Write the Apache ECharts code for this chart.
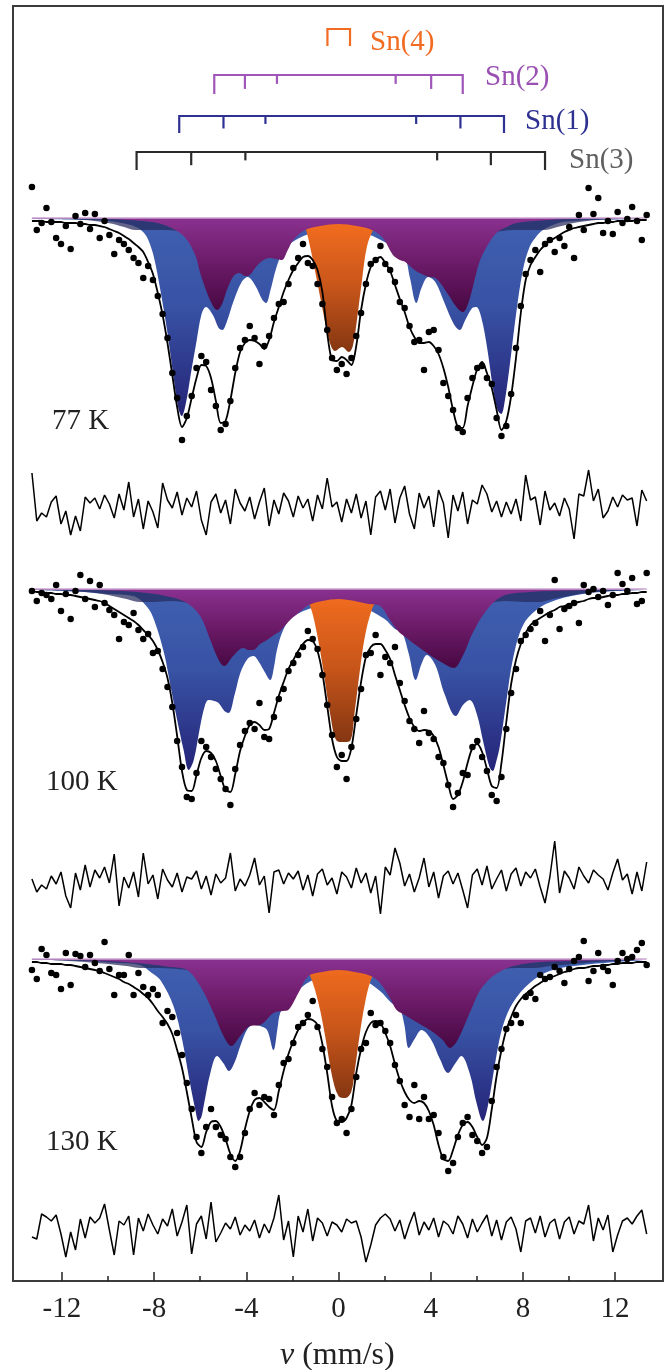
<!DOCTYPE html>
<html><head><meta charset="utf-8">
<script src="https://cdn.jsdelivr.net/npm/echarts@6/dist/echarts.min.js"></script>
<style>html,body{margin:0;padding:0;background:#fff}#c{width:671px;height:1370px}</style>
</head><body><div id="c"></div>
<script>
// Channel velocities (mm/s)
const vChan = [-13.30,-13.09,-12.88,-12.67,-12.46,-12.25,-12.04,-11.83,-11.62,-11.41,
-11.20,-10.99,-10.78,-10.57,-10.36,-10.15,-9.94,-9.73,-9.52,-9.31,
-9.10,-8.89,-8.68,-8.47,-8.26,-8.05,-7.84,-7.63,-7.42,-7.21,
-7.00,-6.79,-6.58,-6.37,-6.16,-5.95,-5.74,-5.53,-5.32,-5.11,
-4.90,-4.69,-4.48,-4.27,-4.06,-3.85,-3.64,-3.43,-3.22,-3.01,
-2.80,-2.59,-2.38,-2.17,-1.96,-1.75,-1.54,-1.33,-1.12,-0.91,
-0.70,-0.49,-0.28,-0.07,0.14,0.35,0.56,0.77,0.98,1.19,
1.40,1.61,1.82,2.03,2.24,2.45,2.66,2.87,3.08,3.29,
3.50,3.71,3.92,4.13,4.34,4.55,4.76,4.97,5.18,5.39,
5.60,5.81,6.02,6.23,6.44,6.65,6.86,7.07,7.28,7.49,
7.70,7.91,8.12,8.33,8.54,8.75,8.96,9.17,9.38,9.59,
9.80,10.01,10.22,10.43,10.64,10.85,11.06,11.27,11.48,11.69,
11.90,12.11,12.32,12.53,12.74,12.95,13.16,13.37];

// Absorption (%) measured points
const data77 = [-3.1,1.2,0.5,-1.0,0.4,2.0,2.6,0.8,3.1,-0.2,
0.6,-0.5,1.1,-0.4,2.0,0.3,1.7,3.6,2.2,2.6,
3.2,4.0,4.5,6.0,4.8,6.2,7.8,9.6,12.0,15.5,
18.0,22.2,19.8,17.8,15.0,13.8,14.4,17.2,18.8,21.2,
20.6,18.3,15.0,13.0,12.2,10.8,12.0,14.6,12.8,11.8,
10.0,8.6,8.4,6.6,5.0,4.0,2.6,4.5,4.8,6.6,
8.6,11.2,14.0,15.2,14.6,15.6,14.0,11.8,9.5,6.6,
4.6,4.2,2.8,4.6,5.2,6.4,8.4,9.0,10.8,12.4,
12.2,15.2,11.4,11.2,13.2,16.5,17.8,19.2,21.0,21.4,
18.0,16.0,15.0,14.8,16.0,16.6,20.0,21.8,20.8,17.6,
13.0,8.8,5.6,4.2,3.2,5.4,2.6,2.2,3.4,2.0,
2.8,0.9,4.0,-0.3,1.2,-3.0,-0.4,-2.0,1.5,0.3,
1.6,-0.6,0.5,0.1,-1.1,0.3,2.2,-0.3];
const fit77 = [0.3,0.3,0.3,0.4,0.4,0.4,0.4,0.5,0.5,0.5,
0.6,0.6,0.7,0.7,0.8,0.9,1.1,1.3,1.5,1.8,
2.1,2.5,2.9,3.4,4.4,5.6,7.5,9.7,12.5,15.7,
18.9,20.9,20.0,18.0,16.0,14.7,14.8,16.0,18.3,20.5,
20.3,18.2,15.5,13.4,12.5,12.2,12.3,12.6,13.1,12.2,
10.4,8.9,7.4,6.2,5.2,4.5,3.9,3.8,4.2,5.2,
7.4,11.5,14.2,14.3,13.9,14.2,14.7,12.8,9.2,6.6,
4.9,4.2,3.9,4.5,5.3,6.7,8.1,9.4,10.9,11.9,
12.5,12.5,12.4,12.8,13.6,15.0,16.9,19.2,20.9,21.0,
18.8,16.8,15.1,14.4,15.5,17.0,19.2,21.2,20.3,17.8,
14.0,9.5,6.2,4.7,3.9,3.2,2.7,2.3,2.0,1.7,
1.4,1.2,1.0,0.9,0.8,0.7,0.6,0.5,0.5,0.4,
0.4,0.3,0.3,0.3,0.3,0.2,0.2,0.2];
const res77 = [3.2,-1.6,-0.8,-1.2,0.3,0.9,-1.9,-0.6,-3.0,-1.1,
-2.6,0.8,0.2,0.7,-0.4,1.0,0.1,-1.3,1.1,-0.5,
2.3,-1.2,0.6,-2.4,0.4,-0.7,-2.3,2.2,0.5,-0.3,
1.3,-1.0,0.7,-0.2,1.4,-1.5,-3.0,0.3,1.1,-0.8,
0.5,-1.9,1.6,0.2,-0.6,0.8,-1.4,0.3,1.7,-2.1,
0.5,-0.9,1.2,0.4,-1.2,0.9,-0.3,0.6,-1.6,1.0,
-0.4,2.7,-0.2,0.3,-1.7,0.6,-0.8,1.1,-1.3,0.4,
-3.0,0.8,1.4,-0.5,1.6,-1.8,0.7,1.9,-0.9,-2.4,
1.2,-0.3,0.9,-2.2,1.5,0.2,-3.3,1.0,-0.6,1.3,
-1.9,0.5,0.1,2.0,1.1,-0.7,0.4,-1.2,0.3,-0.9,
0.6,-1.6,3.0,0.5,0.8,-2.0,1.4,-0.5,0.2,-1.1,
0.7,-0.4,-3.4,1.1,0.9,3.5,0.4,1.6,-1.3,-0.6,
0.8,-0.2,1.0,0.5,0.7,-2.1,1.5,0.4];

const data100 = [0.2,1.2,0.4,0.6,1.0,-0.4,2.2,0.5,3.0,0.2,
-1.4,1.0,-0.8,1.8,-0.4,1.4,2.1,2.6,5.0,3.3,
3.6,2.4,4.1,5.0,4.5,6.4,6.2,8.0,9.8,11.8,
15.2,17.8,20.8,21.0,18.4,15.2,15.8,16.8,18.0,19.0,
20.0,21.6,18.0,15.6,14.2,13.4,14.0,11.4,14.8,15.0,
12.8,11.0,10.0,8.2,7.4,6.6,5.8,4.2,5.0,6.0,
8.6,11.6,14.6,17.8,16.6,19.0,15.8,13.0,10.0,6.6,
6.4,4.6,8.6,6.8,7.4,5.8,9.4,11.2,13.2,14.0,
15.4,12.2,14.4,15.0,16.8,17.4,19.6,21.8,20.4,18.4,
18.6,15.8,15.2,16.8,18.2,20.6,21.2,18.8,14.0,10.4,
8.0,5.2,4.6,4.0,3.4,2.2,5.2,2.6,-0.9,4.0,
2.0,1.7,1.4,3.4,-0.4,0.3,0.0,0.8,0.2,1.6,
0.6,-1.6,-0.5,0.2,-1.1,1.5,1.2,-1.6];
const fit100 = [0.2,0.3,0.3,0.4,0.4,0.5,0.5,0.6,0.6,0.7,
0.8,0.9,1.0,1.1,1.2,1.4,1.7,2.0,2.3,2.6,
2.9,3.2,3.6,4.1,4.6,5.2,6.1,7.3,8.9,11.4,
14.7,18.2,20.1,20.2,18.6,16.9,16.2,16.4,17.2,18.7,
20.1,20.3,18.5,16.2,14.7,13.6,13.3,13.6,14.1,14.0,
12.4,10.7,9.3,8.0,7.1,6.2,5.5,5.1,5.2,6.2,
8.4,11.7,15.0,16.8,17.2,17.2,15.9,12.6,9.3,6.8,
5.8,5.5,5.5,6.1,7.0,8.6,10.1,11.6,12.9,13.8,
14.2,14.1,14.2,14.7,15.8,17.6,19.5,21.0,20.6,19.3,
17.4,15.9,15.5,16.3,18.0,19.7,19.9,17.4,13.3,9.5,
7.1,5.5,4.4,3.6,3.2,2.9,2.6,2.3,2.1,1.8,
1.7,1.5,1.4,1.3,1.2,1.0,0.9,0.9,0.8,0.7,
0.6,0.6,0.5,0.5,0.4,0.4,0.3,0.3];
const res100 = [0.2,-1.1,-0.4,-0.8,0.5,-0.3,0.9,-1.5,-2.7,0.8,
-0.9,1.6,-0.6,1.1,0.3,1.4,-0.2,2.7,-2.5,0.4,
-0.7,0.9,-1.6,2.8,-0.3,0.6,-1.8,1.2,0.1,-0.6,
0.8,-1.1,0.4,0.2,1.0,-0.8,0.5,-1.4,0.7,-0.2,
0.3,2.8,-1.0,0.2,-0.5,0.6,2.3,-0.4,0.5,-3.2,
0.9,1.1,-0.3,0.8,0.2,1.0,-0.9,0.6,-1.5,0.7,
1.2,-0.4,0.3,-1.3,0.9,0.4,-0.7,1.3,-0.2,0.8,
-1.2,0.5,-3.3,1.4,0.6,3.3,1.8,-0.5,0.7,-1.1,
0.3,2.3,-0.6,0.9,-1.7,0.5,1.0,-0.3,0.8,-0.9,
-2.7,0.6,1.2,-0.4,1.5,-0.8,0.2,1.1,-1.0,0.7,
1.3,-0.5,0.9,0.3,1.2,-0.6,-2.2,0.4,4.0,-1.2,
1.0,0.3,-0.8,1.4,0.5,-0.2,1.1,0.6,0.2,-0.9,
0.8,2.2,0.1,0.7,-1.3,0.9,-1.0,1.9];

const data130 = [1.1,2.0,-1.0,-0.4,1.4,1.6,3.0,-0.6,2.6,-0.5,
-0.3,0.8,-0.4,0.4,1.2,-1.7,1.0,3.6,1.6,1.6,
-0.4,3.6,1.4,2.8,3.6,3.0,3.6,6.4,5.2,5.8,
7.4,9.6,12.4,15.0,17.8,19.4,16.8,15.0,16.8,17.6,
18.0,19.8,20.8,19.8,17.4,15.0,13.4,14.6,13.8,14.0,
15.6,12.6,10.4,10.0,8.4,6.8,6.4,5.6,4.2,6.8,
9.0,10.8,13.8,16.4,16.0,17.4,15.0,11.8,9.0,8.4,
5.4,6.6,6.4,7.2,8.4,10.6,12.2,14.6,15.8,12.6,
16.0,13.8,16.0,15.6,17.4,19.8,21.2,20.4,17.8,16.4,
15.8,17.6,18.2,19.4,18.8,14.2,10.8,9.0,7.0,6.4,
5.6,6.4,3.8,3.4,4.0,1.6,2.0,1.8,0.8,1.2,
2.4,1.0,0.2,-0.2,-1.8,2.2,1.2,-0.6,0.8,1.2,
2.6,0.2,-0.6,0.0,-0.2,-0.9,-1.6,0.6];
const fit130 = [0.3,0.3,0.4,0.4,0.5,0.5,0.5,0.6,0.6,0.7,
0.8,0.9,1.0,1.1,1.2,1.4,1.6,1.8,2.0,2.3,
2.5,2.8,3.1,3.5,3.9,4.5,5.2,5.8,6.5,7.5,
9.1,10.9,13.3,15.9,18.3,18.8,17.3,16.3,16.2,16.8,
18.0,19.5,20.2,19.2,17.0,15.2,14.1,13.9,14.3,14.8,
15.1,13.2,11.2,9.5,8.2,7.1,6.4,6.0,6.1,6.6,
8.5,11.4,14.7,16.2,16.3,15.9,14.6,11.4,9.0,7.3,
6.4,6.2,6.4,7.4,8.7,10.5,12.1,13.3,14.1,14.4,
14.2,14.4,15.2,16.6,18.6,20.0,20.2,19.1,17.6,16.6,
16.3,16.8,17.8,18.6,17.9,15.0,11.7,9.1,7.1,5.8,
4.7,4.0,3.5,3.1,2.7,2.4,2.1,1.9,1.7,1.5,
1.3,1.2,1.0,0.9,0.9,0.8,0.7,0.7,0.6,0.6,
0.5,0.5,0.4,0.4,0.4,0.3,0.3,0.3];
const res130 = [-1.0,-1.2,1.3,1.0,0.6,1.2,-0.7,-3.0,-0.5,-2.3,
0.8,-1.1,1.0,0.4,0.9,2.3,-0.3,-2.8,0.6,0.2,
1.1,-2.8,0.9,-0.4,1.3,0.2,-0.7,0.8,0.1,1.8,
-0.9,0.5,2.2,-2.7,0.3,1.1,-1.2,2.5,-1.5,-0.6,
0.4,-0.2,1.0,-0.8,0.2,-0.4,0.7,-1.1,0.3,-0.6,
0.9,3.2,-1.3,0.6,-3.0,1.1,-0.5,1.8,-1.4,0.9,
0.4,-0.9,0.5,0.2,-0.5,0.8,0.4,0.6,-1.0,-3.5,
-1.8,0.2,0.9,1.3,0.8,-0.4,0.7,-1.2,0.3,1.5,
-0.8,0.5,-0.3,0.9,-1.0,0.6,0.2,-0.7,1.1,0.3,
-1.1,0.8,-0.5,0.4,1.2,-0.9,0.7,-1.3,0.5,1.0,
-0.2,-2.5,0.6,0.9,-0.6,1.1,-1.0,0.4,0.8,-1.2,
0.5,1.0,-0.7,0.6,0.3,2.2,-1.4,0.9,-0.3,1.2,
-2.5,-0.8,0.6,0.9,0.3,1.1,1.7,-0.7];

// Sub-spectra [v, absorption %]
const sn1_77 = [[-13.3,0.1],[-11,0.2],[-10,0.3],[-9.2,0.6],[-8.7,1.0],[-8.4,1.6],[-8.2,2.5],[-8.0,4.0],[-7.73,7.2],[-7.44,11.2],[-7.15,16.0],[-6.95,19.0],[-6.8,19.8],[-6.62,18.5],[-6.4,15.5],[-6.15,12.2],[-5.95,9.7],[-5.75,8.9],[-5.45,9.7],[-5.2,11.0],[-5.04,11.2],[-4.85,10.4],[-4.55,8.3],[-4.2,6.4],[-3.94,5.9],[-3.6,6.8],[-3.3,8.2],[-3.14,8.5],[-2.95,7.2],[-2.7,5.0],[-2.45,3.6],[-2.0,2.4],[-1.0,1.4],[0,1.2],[1.0,1.4],[2.0,2.4],[2.5,3.2],[2.88,3.9],[3.1,6.0],[3.38,8.5],[3.6,7.0],[3.89,5.9],[4.2,6.4],[4.6,8.5],[5.0,10.6],[5.26,11.2],[5.5,10.2],[5.8,9.0],[5.98,8.9],[6.2,10.0],[6.45,13.0],[6.7,17.0],[6.9,19.2],[7.06,19.6],[7.2,18.5],[7.42,14.9],[7.71,9.5],[8.0,5.2],[8.29,2.9],[8.6,1.8],[8.87,1.2],[9.3,0.7],[9.73,0.4],[11,0.2],[13.3,0.1]];
const sn2_77 = [[-13.3,0.05],[-10,0.1],[-8.5,0.3],[-7.7,0.6],[-7.0,1.3],[-6.57,2.2],[-6.2,3.8],[-6.0,5.5],[-5.7,7.5],[-5.42,8.9],[-5.27,9.2],[-5.05,8.6],[-4.84,7.2],[-4.55,5.8],[-4.3,5.5],[-4.05,5.8],[-3.85,5.7],[-3.47,4.6],[-3.0,4.0],[-2.7,4.1],[-2.46,4.2],[-2.2,3.2],[-1.96,2.2],[-1.45,1.2],[-0.8,0.8],[0,0.6],[0.8,0.8],[1.45,1.2],[1.93,2.0],[2.36,3.7],[2.66,4.2],[2.9,4.4],[3.3,5.2],[3.7,5.7],[3.95,5.9],[4.2,6.0],[4.45,6.6],[4.8,7.8],[5.15,9.0],[5.4,9.4],[5.62,8.6],[5.84,6.8],[6.1,4.5],[6.4,3.0],[6.85,1.5],[7.3,0.9],[7.71,0.5],[8.5,0.3],[10,0.1],[13.3,0.05]];
const sn4_77 = [[-2.6,0],[-2.0,0.2],[-1.6,0.5],[-1.45,0.9],[-1.23,2.9],[-0.94,6.2],[-0.66,9.5],[-0.37,12.5],[-0.15,13.3],[0.15,12.9],[0.45,13.4],[0.62,12.8],[0.8,10.2],[1.02,6.2],[1.23,2.9],[1.5,1.2],[1.7,0.7],[2.1,0.3],[2.6,0]];
const sn3_77 = [[-13.3,0],[-11,0.2],[-10,0.5],[-9.3,0.9],[-8.8,1.2],[-8.2,1.2],[-7.5,1.2],[-6.4,1.4],[-5,1.0],[-4.1,1.0],[-2,0.5],[0,0.3],[2,0.5],[4.2,1.0],[5,1.0],[6.6,1.4],[7.6,1.2],[8.3,1.2],[8.9,1.2],[9.5,0.9],[10.2,0.5],[11.2,0.2],[13.3,0]];

const sn1_100 = [[-13.3,0.1],[-11,0.3],[-10,0.5],[-8.9,0.7],[-8.3,1.8],[-8.0,3.1],[-7.57,6.4],[-7.29,9.7],[-7.0,13.1],[-6.72,16.1],[-6.5,18.1],[-6.28,17.1],[-6.0,13.7],[-5.8,11.7],[-5.64,11.1],[-5.4,11.2],[-5.2,11.4],[-4.95,12.2],[-4.77,12.4],[-4.5,10.5],[-4.26,8.4],[-3.95,7.0],[-3.69,6.7],[-3.45,7.3],[-3.25,8.1],[-2.96,9.1],[-2.8,7.8],[-2.67,6.1],[-2.4,4.1],[-2.0,2.8],[-1.0,1.8],[0,1.5],[1.0,1.8],[2.0,3.0],[2.45,4.0],[2.75,4.3],[3.05,6.5],[3.35,9.1],[3.6,7.5],[3.83,6.6],[4.2,7.6],[4.6,10.5],[5.09,12.7],[5.4,11.6],[5.69,11.1],[6.0,12.5],[6.3,15.5],[6.55,17.8],[6.69,18.2],[6.85,17.2],[7.0,15.7],[7.29,11.1],[7.56,7.1],[7.99,3.7],[8.58,2.1],[9.44,1.1],[10.9,0.4],[13.3,0.1]];
const sn2_100 = [[-13.3,0.05],[-10,0.15],[-8.3,0.4],[-7.3,0.8],[-6.57,1.4],[-6.0,2.7],[-5.56,5.1],[-5.2,7.1],[-4.96,7.7],[-4.57,6.7],[-4.13,5.9],[-3.9,6.1],[-3.7,6.1],[-3.4,5.5],[-3.1,5.1],[-2.8,4.6],[-2.53,4.2],[-2.1,3.1],[-1.58,2.1],[-1.3,1.6],[-0.7,1.2],[0,1.0],[0.7,1.2],[1.3,1.5],[1.8,1.7],[2.23,3.1],[2.58,4.2],[2.9,4.8],[3.23,5.4],[3.96,6.6],[4.52,7.4],[5.0,7.9],[5.39,6.7],[5.82,4.4],[6.43,2.1],[7.13,0.7],[8.3,0.3],[10,0.15],[13.3,0.05]];
const sn4_100 = [[-2.6,0],[-2.0,0.3],[-1.5,0.8],[-1.23,1.7],[-0.94,4.4],[-0.66,8.1],[-0.37,12.4],[-0.07,15.2],[0.2,15.3],[0.5,15.2],[0.71,12.1],[0.93,8.1],[1.15,4.7],[1.44,2.1],[1.66,1.2],[2.0,0.5],[2.6,0]];
const sn3_100 = [[-13.3,0],[-11,0.3],[-10,0.6],[-9.2,1.0],[-8.6,1.3],[-8,1.3],[-7.3,1.2],[-6.2,1.4],[-4,1.0],[-2,0.5],[0,0.3],[2,0.5],[4,1.0],[6.3,1.4],[7.3,1.2],[8.1,1.3],[8.7,1.3],[9.3,1.0],[10.2,0.6],[11.2,0.3],[13.3,0]];

const sn1_130 = [[-13.3,0.1],[-11,0.2],[-9.5,0.4],[-8.6,0.6],[-8.1,1.4],[-7.73,2.1],[-7.16,4.7],[-6.78,8.1],[-6.5,11.7],[-6.21,15.1],[-6.07,16.2],[-5.95,15.8],[-5.85,14.7],[-5.56,11.4],[-5.27,9.7],[-5.0,10.4],[-4.75,11.2],[-4.5,10.3],[-4.26,8.7],[-3.95,7.0],[-3.69,6.6],[-3.4,6.7],[-3.1,7.1],[-2.82,9.1],[-2.65,7.0],[-2.53,5.4],[-2.24,4.4],[-1.8,3.2],[-1,2.0],[0,1.7],[1,2.0],[1.8,3.2],[2.3,4.4],[2.65,4.9],[2.85,6.5],[3.05,8.9],[3.3,8.0],[3.6,7.1],[4.0,8.0],[4.4,10.0],[4.75,11.4],[5.05,10.5],[5.33,9.7],[5.7,11.5],[6.0,14.5],[6.27,16.2],[6.4,15.5],[6.56,13.7],[6.85,9.7],[7.13,6.7],[7.56,4.4],[8.3,2.4],[9.16,1.2],[10.6,0.6],[13.3,0.1]];
const sn2_130 = [[-13.3,0.05],[-10,0.2],[-8.3,0.5],[-7.3,0.8],[-6.57,1.1],[-6.0,2.7],[-5.42,5.4],[-4.99,7.7],[-4.65,8.7],[-4.26,7.7],[-3.83,6.7],[-3.4,6.6],[-2.82,5.4],[-2.4,5.2],[-2.18,5.1],[-1.74,3.4],[-1.3,1.7],[-0.7,1.3],[0,1.1],[0.7,1.3],[1.4,1.7],[1.8,2.4],[2.23,3.9],[2.52,5.1],[2.8,5.5],[3.23,6.1],[3.96,7.1],[4.52,8.1],[4.83,8.9],[5.17,8.1],[5.69,5.4],[6.27,2.7],[7.13,1.1],[8.3,0.4],[10,0.2],[13.3,0.05]];
const sn4_130 = [[-2.6,0],[-2.0,0.4],[-1.5,1.0],[-1.23,1.7],[-0.87,4.4],[-0.58,7.7],[-0.28,11.7],[0,13.7],[0.3,13.9],[0.55,13.3],[0.71,11.1],[0.93,7.4],[1.15,4.4],[1.36,2.4],[1.58,1.4],[2.0,0.6],[2.6,0]];
const sn3_130 = [[-13.3,0],[-11,0.3],[-10,0.5],[-9.2,0.7],[-8.6,0.9],[-8,0.9],[-7,1.0],[-6,1.2],[-4,0.9],[-2,0.5],[0,0.3],[2,0.5],[4,0.9],[6,1.2],[7,1.0],[7.9,0.9],[8.5,0.9],[9.2,0.7],[10.2,0.5],[11.2,0.3],[13.3,0]];

// Stick diagrams: line positions (mm/s) and relative intensities
const sn4Lines = [-0.48, 0.50];
const sn4Int = [1, 1];
const sn2Lines = [-5.39, -4.06, -2.67, 2.48, 4.02, 5.39];
const sn1Lines = [-6.91, -4.99, -3.17, 3.37, 5.29, 7.18];
const sn3Lines = [-8.76, -6.39, -4.04, 4.28, 6.61, 8.96];
const sextetInt = [3, 2, 1, 1, 2, 3];
const siteNames = ['Sn(4)', 'Sn(2)', 'Sn(1)', 'Sn(3)'];
const tempLabels = ['77 K', '100 K', '130 K'];

// Layout
const FONT = '"Liberation Serif", "Times New Roman", serif';
const XMIN = -14.1, XMAX = 14.1;
const PL = 13.5, PW = 650;
const C = { purple:'#a055b8', navy:'#2e3192', orange:'#f26b22', dark:'#2a2a2a' };

const panels = [
  {base:218, resC:505, lab:422, data:data77, fit:fit77, res:res77, s1:sn1_77, s2:sn2_77, s3:sn3_77, s4:sn4_77},
  {base:589, resC:881, lab:783, data:data100, fit:fit100, res:res100, s1:sn1_100, s2:sn2_100, s3:sn3_100, s4:sn4_100},
  {base:959, resC:1227, lab:1143, data:data130, fit:fit130, res:res130, s1:sn1_130, s2:sn2_130, s3:sn3_130, s4:sn4_130}
];

const grids = [], xAxes = [], yAxes = [], series = [];
function hiddenX(i){ return {gridIndex:i, type:'value', min:XMIN, max:XMAX, show:false}; }

// 0: frame
grids.push({left:13, top:6, width:650, height:1275, show:true, borderColor:'#3c3c3c', borderWidth:2, backgroundColor:'transparent'});
xAxes.push(hiddenX(0)); yAxes.push({gridIndex:0, type:'value', show:false});
// 1: minor ticks, 2: major ticks
const tickLeft = PL + (-12 - XMIN) * PW / (XMAX - XMIN);
const tickW = 24 * PW / (XMAX - XMIN);
grids.push({left:tickLeft, top:6, width:tickW, height:1275});
grids.push({left:tickLeft, top:6, width:tickW, height:1275});
xAxes.push({gridIndex:1, type:'value', min:-12, max:12, interval:2, position:'bottom',
  axisLine:{show:false}, splitLine:{show:false}, axisLabel:{show:false},
  axisTick:{show:true, inside:true, length:5, lineStyle:{color:'#222', width:1.5}}});
xAxes.push({gridIndex:2, type:'value', min:-12, max:12, interval:4, position:'bottom',
  axisLine:{show:false}, splitLine:{show:false},
  axisTick:{show:true, inside:true, length:9, lineStyle:{color:'#222', width:1.5}},
  axisLabel:{show:true, margin:14, fontSize:29, fontFamily:FONT, color:'#222'}});
yAxes.push({gridIndex:1, type:'value', show:false});
yAxes.push({gridIndex:2, type:'value', show:false});
// 3: stick diagrams (y in px from top of grid, inverse)
grids.push({left:PL, top:6, width:PW, height:176});
xAxes.push(hiddenX(3));
yAxes.push({gridIndex:3, type:'value', min:0, max:176, inverse:true, show:false});

function stickData(lines, ints, row, maxLen){
  const imax = Math.max(...ints);
  const L = k => maxLen * (0.2 + 0.8 * ints[k] / imax);
  const n = lines.length;
  const out = [{coords:[[lines[0], row + L(0)], [lines[0], row], [lines[n-1], row], [lines[n-1], row + L(n-1)]]}];
  for (let k = 1; k < n - 1; k++) out.push({coords:[[lines[k], row], [lines[k], row + L(k)]]});
  return out;
}
const sticks = [
  {lines:sn4Lines, ints:sn4Int, row:23, len:17, color:C.orange},
  {lines:sn2Lines, ints:sextetInt, row:69, len:19, color:C.purple},
  {lines:sn1Lines, ints:sextetInt, row:110, len:17, color:C.navy},
  {lines:sn3Lines, ints:sextetInt, row:146, len:18, color:C.dark}
];
sticks.forEach(s => series.push({type:'lines', coordinateSystem:'cartesian2d', xAxisIndex:3, yAxisIndex:3,
  polyline:true, silent:true, data:stickData(s.lines, s.ints, s.row, s.len),
  lineStyle:{color:s.color, width:2.2, opacity:1}}));

const G = echarts.graphic.LinearGradient;
const purpleGrad = () => new G(0,0,0,1,[{offset:0,color:'#8a3190'},{offset:0.5,color:'#6a1a66'},{offset:1,color:'#470842'}]);
const blueGrad = () => new G(0,0,0,1,[{offset:0,color:'#4060b0'},{offset:0.45,color:'#3852a4'},{offset:1,color:'#252478'}]);
const orangeGrad = () => new G(0,0,0,1,[{offset:0,color:'#f56e1f'},{offset:0.5,color:'#c9561a'},{offset:1,color:'#843612'}]);

panels.forEach((p, k) => {
  const gs = grids.length;
  grids.push({left:PL, width:PW, top:p.base - 40, height:280});
  xAxes.push(hiddenX(gs));
  yAxes.push({gridIndex:gs, type:'value', min:-4, max:24, inverse:true, show:false});
  const gr = grids.length;
  grids.push({left:PL, width:PW, top:p.resC - 50, height:100});
  xAxes.push(hiddenX(gr));
  yAxes.push({gridIndex:gr, type:'value', min:-5, max:5, show:false});

  const area = (d, color, z) => ({type:'line', xAxisIndex:gs, yAxisIndex:gs, data:d, smooth:0.35,
    symbol:'none', silent:true, z:z, lineStyle:{width:0, opacity:0}, areaStyle:{origin:0, color:color, opacity:1}});
  series.push(area(p.s1, blueGrad(), 1));
  series.push(area(p.s3, 'rgba(38,42,92,0.72)', 2));
  series.push(area(p.s4, orangeGrad(), 3));
  series.push(area(p.s2, purpleGrad(), 4));
  series.push({type:'line', xAxisIndex:gs, yAxisIndex:gs, symbol:'none', silent:true, z:5,
    data:[[vChan[0],0],[vChan[vChan.length-1],0]], lineStyle:{color:'#cba3d0', width:1.5}});
  series.push({type:'line', xAxisIndex:gs, yAxisIndex:gs, symbol:'none', silent:true, z:6, smooth:0.3,
    data:vChan.map((v,i)=>[v, p.fit[i]]), lineStyle:{color:'#000', width:1.8}});
  series.push({type:'scatter', xAxisIndex:gs, yAxisIndex:gs, silent:true, z:7, symbolSize:6.5,
    data:vChan.map((v,i)=>[v, p.data[i]]), itemStyle:{color:'#000', opacity:1}});
  series.push({type:'line', xAxisIndex:gr, yAxisIndex:gr, symbol:'none', silent:true, z:5,
    data:vChan.map((v,i)=>[v, p.res[i]]), lineStyle:{color:'#000', width:1.5}});
});

const txt = (t, left, top, size, color, extra) => ({type:'text', left:left, top:top, z:100,
  style:Object.assign({text:t, font:size + 'px ' + FONT, fill:color}, extra || {})});
const graphics = [
  txt(siteNames[0], 370, 28, 29, C.orange),
  txt(siteNames[1], 485, 63, 29, '#9a4fb2'),
  txt(siteNames[2], 525, 107, 29, C.navy),
  txt(siteNames[3], 569, 146, 29, '#5f5f5f'),
  txt(tempLabels[0], 52, panels[0].lab - 15, 29, '#222'),
  txt(tempLabels[1], 46, panels[1].lab - 15, 29, '#222'),
  txt(tempLabels[2], 46, panels[2].lab - 15, 29, '#222'),
  txt('{i|v} (mm/s)', 280, 1340, 32, '#222', {rich:{i:{fontStyle:'italic', fontSize:32, fontFamily:FONT}}})
];

const chart = echarts.init(document.getElementById('c'), null, {renderer:'canvas'});
chart.setOption({animation:false, backgroundColor:'#fff', grid:grids, xAxis:xAxes, yAxis:yAxes, series:series, graphic:graphics});
</script></body></html>
